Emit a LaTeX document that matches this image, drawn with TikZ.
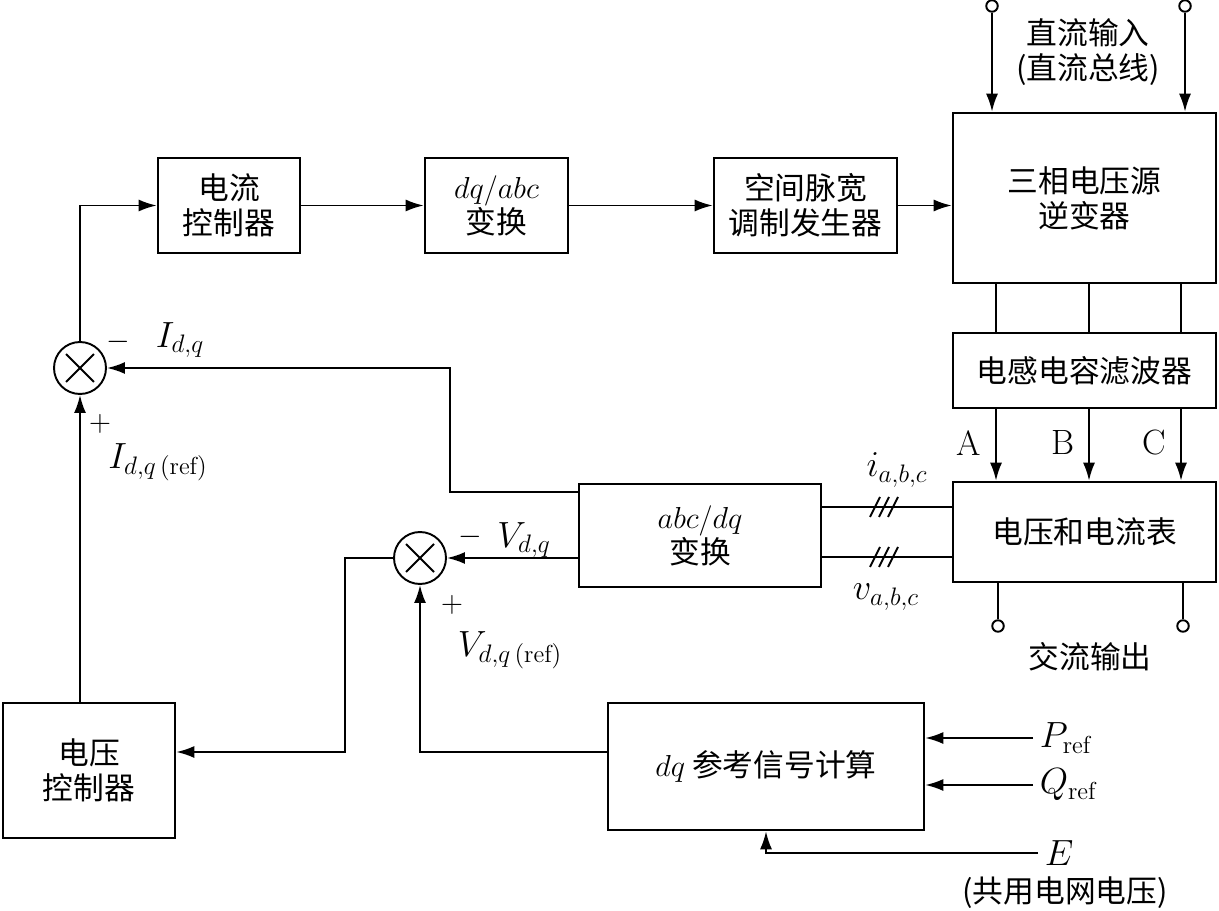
\documentclass[tikz,border=0pt]{standalone}
\usepackage{fontspec}
\usepackage{amsmath}
\newfontfamily\cjk{Noto Sans CJK SC}
\usetikzlibrary{arrows.meta, positioning}

\begin{document}
\begin{tikzpicture}[x=0.02cm, y=-0.02cm, line width=1.1pt,
  font=\fontsize{17.5}{20}\selectfont\cjk,
  box/.style={draw, line width=1.5pt, align=center, inner sep=0pt},
  arr/.style={-{Latex[length=3.6mm, width=2.4mm]}},
  lab/.style={font=\fontsize{20}{24}\selectfont},
  somme/.style={draw, circle, minimum size=1.04cm, inner sep=0pt,
    path picture={
      \draw ([shift={(-0.28cm,-0.28cm)}]path picture bounding box.center) -- ([shift={(0.28cm,0.28cm)}]path picture bounding box.center);
      \draw ([shift={(-0.28cm,0.28cm)}]path picture bounding box.center) -- ([shift={(0.28cm,-0.28cm)}]path picture bounding box.center);}},
  borne/.style={draw, circle, fill=white, minimum size=0.23cm, inner sep=0pt}]
  \useasboundingbox (0,0) rectangle (1219,911);

  % blocs
  \node[box, minimum width=2.84cm, minimum height=1.9cm] (cc) at (229,205.5) {电流\\控制器};
  \node[box, minimum width=2.86cm, minimum height=1.9cm] (dqabc) at (496.5,205.5) {$dq/abc$\\变换};
  \node[box, minimum width=3.66cm, minimum height=1.9cm] (svpwm) at (805.5,205.5) {空间脉宽\\调制发生器};
  \node[box, minimum width=5.26cm, minimum height=3.4cm] (inv) at (1084.5,198) {三相电压源\\逆变器};
  \node[box, minimum width=5.26cm, minimum height=1.5cm] (lc) at (1084.5,370.5) {电感电容滤波器};
  \node[box, minimum width=5.26cm, minimum height=2cm] (meter) at (1084.5,532) {电压和电流表};
  \node[box, minimum width=4.84cm, minimum height=2.06cm] (abcdq) at (700,535.5) {$abc/dq$\\变换};
  \node[box, minimum width=3.44cm, minimum height=2.7cm] (vc) at (89,770.5) {电压\\控制器};
  \node[box, minimum width=6.32cm, minimum height=2.54cm] (dqref) at (766,766.5) {$dq$ 参考信号计算};

  % sommateurs
  \node[somme] (s1) at (80,368) {};
  \node[somme] (s2) at (420,558) {};

  % chaine directe
  \draw[arr] (s1.north) |- (cc.west);
  \draw[arr] (cc.east) -- (dqabc.west);
  \draw[arr] (dqabc.east) -- (svpwm.west);
  \draw[arr] (svpwm.east) -- (svpwm.east -| inv.west);

  % bus continu
  \foreach \x/\n in {992/1, 1185/2} {
    \node[borne] (dc\n) at (\x,6) {};
    \draw[arr] (dc\n) -- (dc\n |- inv.north);
  }
  \node[align=center] (ldc) at (1088,52) {直流输入\\(直流总线)};

  % trois phases
  \foreach \x/\p in {996/A, 1089/B, 1181/C} {
    \draw (\x,0 |- inv.south) -- (\x,0 |- lc.north);
    \draw[arr] (\x,0 |- lc.south) -- (\x,0 |- meter.north);
    \node[left, lab] (lab\p) at (\x-8,443) {\rmfamily\p};
  }

  % sortie alternative
  \foreach \x/\n in {998/1, 1183/2} {
    \node[borne] (ac\n) at (\x,626) {};
    \draw (\x,0 |- meter.south) -- (ac\n);
  }
  \node (lac) at (1090,657) {交流输出};

  % mesures
  \coordinate (mi) at ([yshift=0.5cm]meter.west);
  \coordinate (mv) at ([yshift=-0.5cm]meter.west);
  \draw (mi) -- (mi -| abcdq.east);
  \draw (mv) -- (mv -| abcdq.east);
  \foreach \c in {mi, mv}
    \foreach \d in {-9,0,9}
      \draw[shift={(\c -| 884,0)}] (\d-5,10) -- (\d+5,-10);
  \node[lab] (li) at (897,470) {$i_{a,b,c}$};
  \node[lab] (lv) at (886,597) {$v_{a,b,c}$};

  % boucle de courant
  \coordinate (k1) at (450,492);
  \draw[arr] (k1 -| abcdq.west) -- (k1) |- (s1.east);
  \draw[arr] (vc.north -| s1) -- (s1.south);
  \node (m1) at (118,342) {$-$};
  \node[lab] (lid) at (180,340) {$I_{d,q}$};
  \node (p1) at (100,424) {$+$};
  \node[lab] (lidref) at (158,462) {$I_{d,q\,(\mathrm{ref})}$};

  % boucle de tension
  \draw[arr] (abcdq.west |- s2) -- (s2.east);
  \coordinate (k2) at (345,752);
  \draw[arr] (s2.west) -| (k2) -- (k2 -| vc.east);
  \draw[arr] (dqref.west |- k2) -| (s2.south);
  \node (m2) at (470,537) {$-$};
  \node[lab] (lvd) at (524,540) {$V_{d,q}$};
  \node (p2) at (452,605) {$+$};
  \node[lab] (lvdref) at (510,650) {$V_{d,q\,(\mathrm{ref})}$};

  % consignes
  \foreach \y/\t/\n in {738/{$P_{\mathrm{ref}}$}/p, 785/{$Q_{\mathrm{ref}}$}/q} {
    \node[right, lab] (l\n) at (1033,\y) {\t};
    \draw[arr] (l\n.west) -- (l\n.west -| dqref.east);
  }
  \node[right, lab] (le) at (1038,853) {$E$};
  \draw[arr] (le.west) -| (dqref.south);
  \node (lgrid) at (1065,893) {(共用电网电压)};
\end{tikzpicture}
\end{document}
